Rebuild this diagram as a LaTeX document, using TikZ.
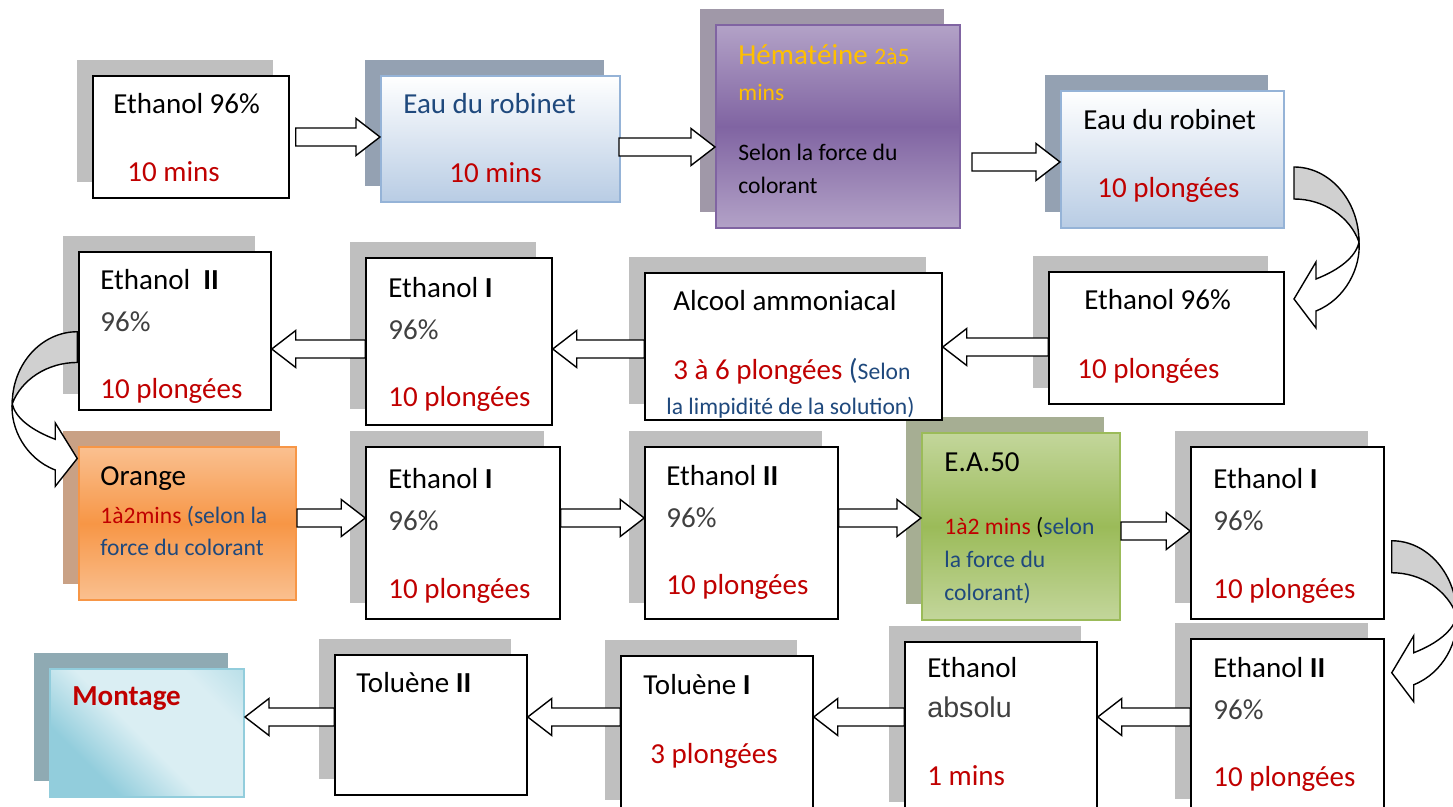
\documentclass[tikz,border=0pt]{standalone}
\usepackage{fontspec}
\setmainfont{Carlito}
\newfontfamily\arialf{Liberation Sans}
\usetikzlibrary{calc,shadows}
\definecolor{tred}{HTML}{C00000}
\definecolor{dblue}{HTML}{1F497D}
\definecolor{tgold}{HTML}{FFC000}
\definecolor{tgray}{HTML}{404040}
\definecolor{shgray}{HTML}{BFBFBF}
\definecolor{shblue}{HTML}{94A1B2}
\definecolor{shpurp}{HTML}{A098A8}
\definecolor{shorng}{HTML}{C9A185}
\definecolor{shgreen}{HTML}{A6AE93}
\definecolor{shmont}{HTML}{8FAAB3}
\definecolor{agray}{HTML}{D0D0D0}
\definecolor{mA}{HTML}{92CDDC}
\definecolor{mB}{HTML}{DAEEF3}
\definecolor{HTMLblue}{HTML}{95B3D7}
\definecolor{boxblue}{HTML}{B8CCE4}
\definecolor{purpA}{HTML}{B3A2C7}
\definecolor{purpB}{HTML}{8064A2}
\definecolor{orngA}{HTML}{FAC090}
\definecolor{orngB}{HTML}{F79646}
\definecolor{greenA}{HTML}{C3D69B}
\definecolor{greenB}{HTML}{9BBB59}
\pgfdeclarehorizontalshading{montshade}{100bp}{color(0bp)=(mA); color(30bp)=(mA); color(48bp)=(mB); color(72bp)=(mB); color(90bp)=(mA!60!mB); color(100bp)=(mA!60!mB)}
\newcommand\szA{\fontsize{14.5}{17}\selectfont}
\newcommand\szB{\fontsize{11.8}{14}\selectfont}
\tikzset{
  x=0.5pt, y=-0.5pt,
  sz/.style 2 args={minimum width=#1*0.5pt, minimum height=#2*0.5pt, inner sep=0pt},
  shd/.style={general shadow={fill=#1, shadow xshift=-8pt, shadow yshift=8pt}},
  wbox/.style={draw=black, line width=0.75pt, fill=white, shd=shgray},
  bluebox/.style={draw=HTMLblue, line width=1pt, top color=white, bottom color=boxblue, shd=shblue},
  purpbox/.style={draw=purpB, line width=1pt, top color=purpA, bottom color=purpA, middle color=purpB, shd=shpurp},
  orngbox/.style={draw=orngB, line width=1pt, top color=orngA, bottom color=orngA, middle color=orngB, shd=shorng},
  greenbox/.style={draw=greenB, line width=1pt, top color=greenA, bottom color=greenA, middle color=greenB, shd=shgreen},
  montbox/.style={draw=mA, line width=1pt, shading=montshade, shading angle=45, shd=shmont},
  tx/.style={anchor=base west, inner sep=0pt, font=\szA},
  sx/.style={anchor=base west, inner sep=0pt, font=\szB},
  barrow/.style={draw=black, line width=0.7pt, fill=white, line join=miter},
  carrow/.style={draw=black, line width=0.7pt},
  curvarr/.pic={
    \filldraw[carrow,fill=agray] (0,0) .. controls (36,0) and (65,34) .. (65,75)
      .. controls (56,50) and (30,32) .. (0,32) -- cycle;
    \filldraw[carrow,fill=white] (65,75) .. controls (67,100) and (52,132) .. (22,144)
      -- (22,161) -- (0,132) -- (22,95) -- (22,112)
      .. controls (45,103) and (62,90) .. (65,75) -- cycle;
  }
}
\newcommand\barr[3]{%
  \path #1 coordinate (tt0) #2 coordinate (hh0);
  \draw[barrow] let \p1=(tt0 |- 0,#3), \p2=(hh0 |- 0,#3), \p3=($(\p2)!12pt!(\p1)$) in
    (\x1,\y1+4.5pt) -- (\x3,\y1+4.5pt) -- (\x3,\y1+9.25pt) -- (\x2,\y2)
    -- (\x3,\y1-9.25pt) -- (\x3,\y1-4.5pt) -- (\x1,\y1-4.5pt) -- cycle;}
\begin{document}
\begin{tikzpicture}
\useasboundingbox (0,0) rectangle (1453,807);
\clip (0,0) rectangle (1453,807);
\fill[white] (0,0) rectangle (1453,807);
% ---- boxes
\node[greenbox, sz={198}{187}] (b12) at (1021,526.5) {};
\node[wbox, sz={196}{122}] (b1) at (191,137) {};
\node[bluebox, sz={239}{126}] (b2) at (500.5,139) {};
\node[purpbox, sz={244}{203}] (b3) at (838,126.5) {};
\node[bluebox, sz={223}{137}] (b4) at (1172.5,159.5) {};
\node[wbox, sz={235}{132}] (b5) at (1166.5,338) {};
\node[wbox, sz={297}{147}] (b6) at (793.5,346.5) {};
\node[wbox, sz={186}{167}] (b7) at (459,341.5) {};
\node[wbox, sz={192}{158}] (b8) at (175,331) {};
\node[orngbox, sz={217}{153}] (b9) at (187.5,523.5) {};
\node[wbox, sz={194}{172}] (b10) at (463,533) {};
\node[wbox, sz={193}{172}] (b11) at (741.5,533) {};
\node[wbox, sz={193}{172}] (b13) at (1287.5,533) {};
\node[wbox, sz={193}{176}] (b14) at (1287.5,727) {};
\node[wbox, sz={192}{176}] (b15) at (1001,730) {};
\node[wbox, sz={192}{160}] (b16) at (717,736) {};
\node[wbox, sz={192}{140}] (b17) at (431,725) {};
\node[montbox, sz={194}{128}] (b18) at (147,733) {};
% ---- texts
\node[tx] (t1a) at (113,114) {Ethanol 96\%};
\node[tx,text=tred] (t1b) at (127,182) {10 mins};
\node[tx,text=dblue] (t2a) at (403,114) {Eau du robinet};
\node[tx,text=tred] (t2b) at (449,183) {10 mins};
\node[tx,text=tgold] (t3a) at (738,65) {Hématéine {\szB 2à5}};
\node[sx,text=tgold] (t3b) at (738,101) {mins};
\node[sx] (t3c) at (738,161) {Selon la force du};
\node[sx] (t3d) at (738,194) {colorant};
\node[tx] (t4a) at (1083,130) {Eau du robinet};
\node[tx,text=tred] (t4b) at (1097,198) {10 plongées};
\node[tx] (t5a) at (1084,310) {Ethanol 96\%};
\node[tx,text=tred] (t5b) at (1077,379) {10 plongées};
\node[tx] (t6a) at (673,311) {Alcool ammoniacal};
\node[tx] (t6b) at (673,380) {\textcolor{tred}{3 à 6 plongées} \textcolor{dblue}{({\szB Selon}}};
\node[sx,text=dblue] (t6c) at (666,415) {la limpidité de la solution)};
\node[tx] (t7a) at (388,298) {Ethanol \textbf{I}};
\node[tx,text=tgray] (t7b) at (388,340) {96\%};
\node[tx,text=tred] (t7c) at (388,407) {10 plongées};
\node[tx] (t8a) at (100,290) {Ethanol\ \ \textbf{II}};
\node[tx,text=tgray] (t8b) at (100,332) {96\%};
\node[tx,text=tred] (t8c) at (100,399) {10 plongées};
\node[tx] (t9a) at (100,486) {Orange};
\node[sx] (t9b) at (100,524) {\textcolor{tred}{1à2mins} \textcolor{dblue}{(selon la}};
\node[sx,text=dblue] (t9c) at (100,556) {force du colorant};
\node[tx] (t10a) at (388,489) {Ethanol \textbf{I}};
\node[tx,text=tgray] (t10b) at (388,531) {96\%};
\node[tx,text=tred] (t10c) at (388,599) {10 plongées};
\node[tx] (t11a) at (666,486) {Ethanol \textbf{II}};
\node[tx,text=tgray] (t11b) at (666,528) {96\%};
\node[tx,text=tred] (t11c) at (666,595) {10 plongées};
\node[tx] (t12a) at (944,472) {E.A.50};
\node[sx] (t12b) at (944,535) {\textcolor{tred}{1à2 mins} (\textcolor{dblue}{selon}};
\node[sx,text=dblue] (t12c) at (944,568) {la force du};
\node[sx,text=dblue] (t12d) at (944,601) {colorant)};
\node[tx] (t13a) at (1213,489) {Ethanol \textbf{I}};
\node[tx,text=tgray] (t13b) at (1213,531) {96\%};
\node[tx,text=tred] (t13c) at (1213,599) {10 plongées};
\node[tx] (t14a) at (1213,678) {Ethanol \textbf{II}};
\node[tx,text=tgray] (t14b) at (1213,720) {96\%};
\node[tx,text=tred] (t14c) at (1213,787) {10 plongées};
\node[tx] (t15a) at (927,678) {Ethanol};
\node[tx,text=tgray,font=\arialf\fontsize{14.3}{17}\selectfont] (t15b) at (927,718) {absolu};
\node[tx,text=tred] (t15c) at (927,785) {1 mins};
\node[tx] (t16a) at (643,695) {Toluène \textbf{I}};
\node[tx,text=tred] (t16b) at (650,764) {3 plongées};
\node[tx] (t17a) at (356,693) {Toluène \textbf{II}};
\node[tx,text=tred,font=\szA\bfseries] (t18a) at (72,706) {Montage};
% ---- straight block arrows
\barr{($(b1.east)+(6,0)$)}{(b2.west)}{137}
\barr{($(b2.east)+(-2,0)$)}{(b3.west)}{147}
\barr{($(b3.east)+(11,0)$)}{(b4.west)}{162}
\barr{(b5.west)}{(b6.east)}{347}
\barr{(b6.west)}{(b7.east)}{349}
\barr{(b7.west)}{(b8.east)}{349}
\barr{(b9.east)}{(b10.west)}{518}
\barr{(b10.east)}{(b11.west)}{518}
\barr{(b11.east)}{(b12.west)}{518}
\barr{(b12.east)}{(b13.west)}{531}
\barr{(b14.west)}{(b15.east)}{717}
\barr{(b15.west)}{(b16.east)}{717}
\barr{(b16.west)}{(b17.east)}{717}
\barr{(b17.west)}{(b18.east)}{717}
% ---- curved arrows
\coordinate (ca1) at ($(b4.south east)+(9,-62)$);
\coordinate (ca2) at ($(b13.south east)+(7,-79)$);
\coordinate (ca3) at ($(b8.south west)+(-1,-79)$);
\pic at (ca1) {curvarr};
\pic at (ca2) {curvarr};
\pic[xscale=-1, yscale=0.96] at (ca3) {curvarr};
\end{tikzpicture}
\end{document}
